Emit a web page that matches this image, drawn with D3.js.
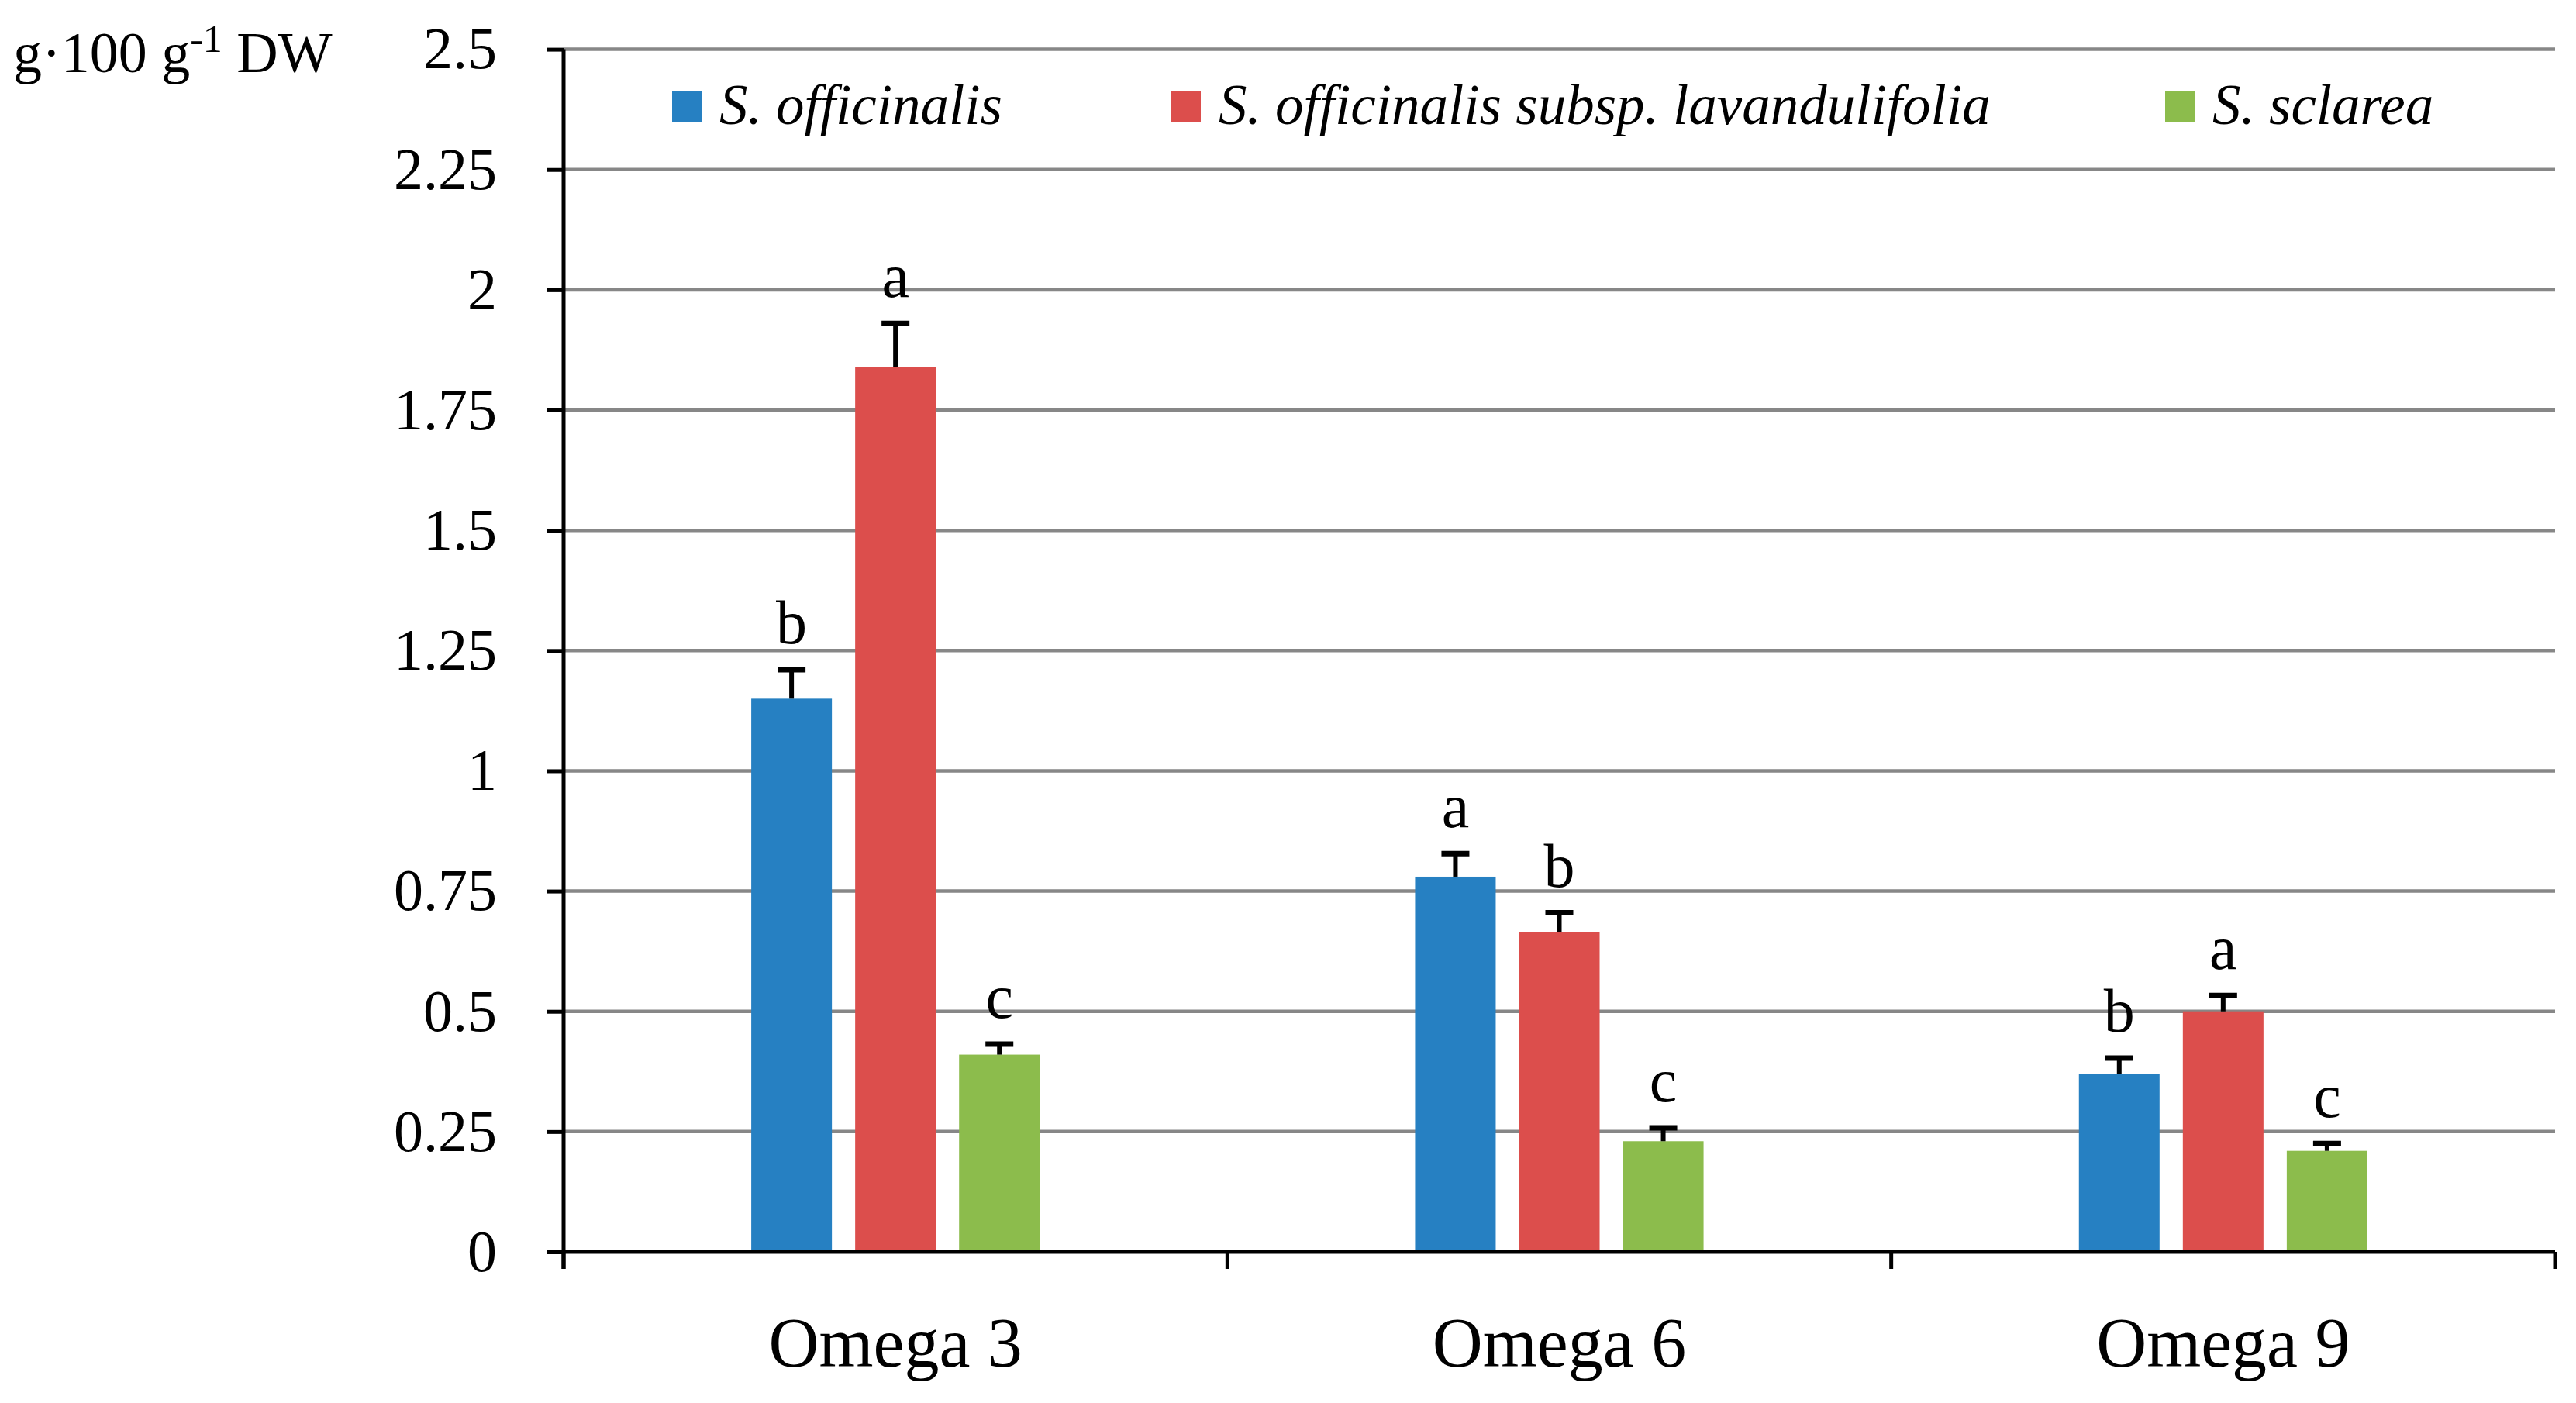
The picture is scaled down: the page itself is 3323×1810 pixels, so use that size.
<!DOCTYPE html>
<html><head><meta charset="utf-8">
<script src="https://cdn.jsdelivr.net/npm/d3@7"></script>
<style>html,body{margin:0;padding:0;background:#fff;}svg{display:block;}</style>
</head><body>
<svg id="chart" width="3323" height="1810"></svg>
<script>
const categories = ["Omega 3", "Omega 6", "Omega 9"];
const seriesNames = ["S. officinalis", "S. officinalis subsp. lavandulifolia", "S. sclarea"];
const seriesColors = ["#2680c2", "#dc4e4c", "#8cbc4c"];
const sOfficinalis = [1.15, 0.78, 0.37];
const sLavandulifolia = [1.84, 0.665, 0.50];
const sSclarea = [0.41, 0.23, 0.21];
const errOfficinalis = [0.06, 0.048, 0.033];
const errLavandulifolia = [0.09, 0.04, 0.033];
const errSclarea = [0.022, 0.028, 0.015];
const lettersOfficinalis = ["b", "a", "b"];
const lettersLavandulifolia = ["a", "b", "a"];
const lettersSclarea = ["c", "c", "c"];
const yTicks = [0, 0.25, 0.5, 0.75, 1, 1.25, 1.5, 1.75, 2, 2.25, 2.5];
const yTickLabels = ["0", "0.25", "0.5", "0.75", "1", "1.25", "1.5", "1.75", "2", "2.25", "2.5"];

const values = [sOfficinalis, sLavandulifolia, sSclarea];
const errors = [errOfficinalis, errLavandulifolia, errSclarea];
const letters = [lettersOfficinalis, lettersLavandulifolia, lettersSclarea];

const FONT = "'Liberation Serif', 'Times New Roman', serif";
const svg = d3.select("#chart");
const pLeft = 727, pRight = 3296, pTop = 63.6, pBottom = 1615;

const x0 = d3.scaleBand().domain(categories).range([pLeft, pRight]).paddingInner(0).paddingOuter(0);
const x1 = d3.scaleBand().domain(d3.range(seriesNames.length)).range([0, x0.bandwidth()])
  .paddingInner(0.224).paddingOuter(1.806);
const y = d3.scaleLinear().domain([0, 2.5]).range([pBottom, pTop]);

// gridlines
svg.append("g").selectAll("line").data(yTicks.filter(d => d > 0)).join("line")
  .attr("x1", pLeft).attr("x2", pRight)
  .attr("y1", d => y(d)).attr("y2", d => y(d))
  .attr("stroke", "#878787").attr("stroke-width", 4.5);

// bars
const rows = [];
categories.forEach((c, i) => {
  values.forEach((arr, s) => {
    rows.push({cat: c, s: s, v: arr[i], e: errors[s][i], l: letters[s][i]});
  });
});
const g = svg.append("g");
g.selectAll("rect").data(rows).join("rect")
  .attr("x", d => x0(d.cat) + x1(d.s))
  .attr("width", x1.bandwidth())
  .attr("y", d => y(d.v))
  .attr("height", d => y(0) - y(d.v))
  .attr("fill", d => seriesColors[d.s]);

// error bars
const capW = 36;
g.selectAll("line.err").data(rows).join("line").attr("class", "err")
  .attr("x1", d => x0(d.cat) + x1(d.s) + x1.bandwidth() / 2)
  .attr("x2", d => x0(d.cat) + x1(d.s) + x1.bandwidth() / 2)
  .attr("y1", d => y(d.v)).attr("y2", d => y(d.v + d.e))
  .attr("stroke", "#000").attr("stroke-width", 6);
g.selectAll("line.cap").data(rows).join("line").attr("class", "cap")
  .attr("x1", d => x0(d.cat) + x1(d.s) + x1.bandwidth() / 2 - capW / 2)
  .attr("x2", d => x0(d.cat) + x1(d.s) + x1.bandwidth() / 2 + capW / 2)
  .attr("y1", d => y(d.v + d.e)).attr("y2", d => y(d.v + d.e))
  .attr("stroke", "#000").attr("stroke-width", 7);

// letters
g.selectAll("text.let").data(rows).join("text").attr("class", "let")
  .attr("x", d => x0(d.cat) + x1(d.s) + x1.bandwidth() / 2)
  .attr("y", d => y(d.v + d.e) - 34)
  .attr("text-anchor", "middle")
  .attr("font-family", FONT).attr("font-size", 80).attr("fill", "#000")
  .text(d => d.l);

// y axis
const yAxis = d3.axisLeft(y).tickValues(yTicks).tickFormat((d, i) => yTickLabels[i]).tickSize(22).tickPadding(64);
const ya = svg.append("g").attr("transform", `translate(${pLeft},0)`).call(yAxis);
ya.select(".domain").attr("stroke", "#000").attr("stroke-width", 5).attr("d", `M0,${pTop}V${pBottom + 22}`);
ya.selectAll(".tick line").attr("stroke", "#000").attr("stroke-width", 5);
ya.selectAll(".tick text").attr("font-family", FONT).attr("font-size", 76).attr("fill", "#000");

// x axis
const xAxis = d3.axisBottom(x0).tickSize(0).tickPadding(0);
const xa = svg.append("g").attr("transform", `translate(0,${pBottom})`).call(xAxis);
xa.select(".domain").attr("stroke", "#000").attr("stroke-width", 5).attr("d", `M${pLeft - 22},0H${pRight}`);
xa.selectAll(".tick text").attr("font-family", FONT).attr("font-size", 90).attr("fill", "#000")
  .attr("dy", null).attr("y", 148);
const bounds = categories.map(c => x0(c)).concat([x0.range()[1]]);
xa.selectAll("line.bnd").data(bounds).join("line").attr("class", "bnd")
  .attr("x1", d => d).attr("x2", d => d).attr("y1", 0).attr("y2", 22)
  .attr("stroke", "#000").attr("stroke-width", 5);

// y title
const yt = svg.append("text").attr("x", 17).attr("y", 93)
  .attr("font-family", FONT).attr("font-size", 74).attr("fill", "#000");
yt.append("tspan").text("g·100 g");
yt.append("tspan").attr("dy", -26).attr("font-size", 50).text("-1");
yt.append("tspan").attr("dy", 26).text(" DW");

// legend
const legX = [867, 1511, 2793];
const leg = svg.append("g");
seriesNames.forEach((n, i) => {
  leg.append("rect").attr("x", legX[i]).attr("y", 117).attr("width", 38).attr("height", 40).attr("fill", seriesColors[i]);
  leg.append("text").attr("x", legX[i] + 61).attr("y", 160)
    .attr("font-family", FONT).attr("font-style", "italic").attr("font-size", 73).attr("fill", "#000").text(n);
});
</script>
</body></html>
